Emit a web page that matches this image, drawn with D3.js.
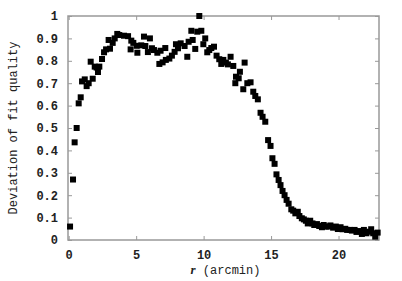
<!DOCTYPE html>
<html>
<head>
<meta charset="utf-8">
<script src="https://cdn.jsdelivr.net/npm/d3@7"></script>
<style>
  body { margin: 0; background: #fff; }
  text { font-family: "Liberation Mono", "DejaVu Sans Mono", monospace; font-weight: bold; fill: #222; }
</style>
</head>
<body>
<div id="chart"></div>
<script>
(function() {
    var width = 402,
        height = 281;

    // r (arcmin) and deviation of fit quality
    var rValues = [0.1, 0.32, 0.44, 0.59, 0.74, 0.89, 0.99, 1.19, 1.33, 1.48, 1.63, 1.78, 1.93, 2.07, 2.17, 2.27,
        2.47, 2.62, 2.77, 2.96, 3.06, 3.26, 3.41, 3.6, 3.75, 4.1, 4.4, 4.59, 4.64, 4.79, 5.04, 5.09, 5.38, 5.58,
        5.68, 5.87, 6.02, 6.17, 6.32, 6.57, 6.72, 6.81, 6.96, 7.16, 7.2, 7.46, 7.65, 7.85, 7.95, 8.1, 8.3, 8.59,
        8.79, 8.89, 9.09, 9.19, 9.38, 9.53, 9.68, 9.83, 9.98, 10.12, 10.27, 10.42, 10.57, 10.77, 10.96, 11.16,
        11.31, 11.46, 11.65, 11.8, 12.0, 12.2, 12.35, 12.4, 12.6, 12.69, 12.94, 13.04, 13.24, 13.48, 13.68,
        13.83, 14.02, 14.22, 14.37, 14.57, 14.78, 14.96, 15.1, 15.26, 15.4, 15.56, 15.7, 15.85, 16.0, 16.15,
        16.3, 16.5, 16.64, 16.8, 16.98, 17.1, 17.28, 17.43, 17.58, 17.72, 17.9, 18.07, 18.2, 18.4, 18.57,
        18.77, 18.9, 19.06, 19.26, 19.4, 19.6, 19.8, 19.95, 20.15, 20.3, 20.5, 20.64, 20.84, 20.99, 21.19,
        21.33, 21.53, 21.73, 21.88, 22.07, 22.22, 22.42, 22.57, 22.72, 22.9];
    var deviation = [0.06, 0.27, 0.436, 0.5, 0.61, 0.637, 0.708, 0.717, 0.687, 0.7, 0.796, 0.72, 0.774, 0.77, 0.75, 0.774,
        0.808, 0.838, 0.851, 0.893, 0.854, 0.88, 0.9, 0.92, 0.915, 0.912, 0.91, 0.851, 0.89, 0.88, 0.867, 0.836, 0.869, 0.908,
        0.866, 0.839, 0.9, 0.856, 0.848, 0.836, 0.786, 0.845, 0.793, 0.857, 0.804, 0.81, 0.823, 0.84, 0.874, 0.856, 0.878, 0.866,
        0.818, 0.885, 0.934, 0.893, 0.853, 0.93, 1.0, 0.934, 0.874, 0.9, 0.838, 0.848, 0.857, 0.863, 0.823, 0.807,
        0.786, 0.804, 0.792, 0.784, 0.818, 0.777, 0.7, 0.729, 0.722, 0.751, 0.673, 0.792, 0.7, 0.704, 0.662,
        0.643, 0.628, 0.568, 0.55, 0.528, 0.446, 0.42, 0.365, 0.34, 0.293, 0.268, 0.245, 0.219, 0.2, 0.179,
        0.162, 0.137, 0.131, 0.119, 0.126, 0.107, 0.097, 0.092, 0.086, 0.074, 0.086, 0.074, 0.067, 0.071, 0.0625,
        0.057, 0.067, 0.06, 0.06, 0.065, 0.055, 0.06, 0.049, 0.057, 0.048, 0.05, 0.045, 0.045, 0.042, 0.045,
        0.036, 0.04, 0.027, 0.045, 0.03, 0.037, 0.048, 0.03, 0.015, 0.033];
    var xTicks = [0, 5, 10, 15, 20];
    var yTicks = [0, 0.1, 0.2, 0.3, 0.4, 0.5, 0.6, 0.7, 0.8, 0.9, 1];

    var points = rValues.map(function(r, i) { return {r: r, v: deviation[i]} });

    var left = 68, right = 379, top = 16, bottom = 240;

    var svg = d3.select("#chart")
        .append("svg")
        .attr("width", width)
        .attr("height", height)

    var x = d3.scaleLinear().domain([0, 23]).range([left + 0.7, right]);
    var y = d3.scaleLinear().domain([0, 1]).range([bottom, top]);

    var frameColor = "#999";

    // ticks on every side, pointing inward
    svg.append("g")
        .attr("transform", "translate(0," + bottom + ")")
        .call(d3.axisBottom(x).tickValues(xTicks).tickSize(-4).tickFormat(function(d) { return d }).tickPadding(10))
        .call(function(g) {
            g.select(".domain").remove()
            g.selectAll("line").attr("stroke", frameColor)
            g.selectAll("text").attr("font-size", 12).attr("fill", "#222")
        })

    svg.append("g")
        .attr("transform", "translate(0," + top + ")")
        .call(d3.axisTop(x).tickValues(xTicks).tickSize(-4).tickFormat(""))
        .call(function(g) {
            g.select(".domain").remove()
            g.selectAll("line").attr("stroke", frameColor)
        })

    svg.append("g")
        .attr("transform", "translate(" + left + ",0)")
        .call(d3.axisLeft(y).tickValues(yTicks).tickSize(-4).tickPadding(10)
            .tickFormat(function(d) { return d === 0 || d === 1 ? d : d3.format(".1f")(d) }))
        .call(function(g) {
            g.select(".domain").remove()
            g.selectAll("line").attr("stroke", frameColor)
            g.selectAll("text").attr("font-size", 12).attr("fill", "#222")
        })

    svg.append("g")
        .attr("transform", "translate(" + right + ",0)")
        .call(d3.axisRight(y).tickValues(yTicks).tickSize(-4).tickFormat(""))
        .call(function(g) {
            g.select(".domain").remove()
            g.selectAll("line").attr("stroke", frameColor)
        })

    svg.append("rect")
        .attr("x", left)
        .attr("y", top)
        .attr("width", right - left)
        .attr("height", bottom - top)
        .attr("fill", "none")
        .attr("stroke", frameColor)
        .attr("stroke-width", 1.5)

    svg.selectAll(".pt")
        .data(points)
        .enter().append("rect")
        .attr("class", "pt")
        .attr("x", function(d) { return x(d.r) - 3 })
        .attr("y", function(d) { return y(d.v) - 3 })
        .attr("width", 6)
        .attr("height", 6)
        .attr("fill", "#000")

    // axis titles
    svg.append("text")
        .attr("transform", "translate(17," + ((top + bottom) / 2) + ") rotate(-90)")
        .attr("text-anchor", "middle")
        .attr("font-size", 12)
        .style("font-weight", "normal")
        .text("Deviation of fit quality")

    var xl = svg.append("text")
        .attr("x", (left + right) / 2 + 2)
        .attr("y", 274)
        .attr("text-anchor", "middle")
        .attr("font-size", 12)
        .style("font-weight", "normal")
    xl.append("tspan")
        .style("font-family", "'Liberation Serif', serif")
        .style("font-style", "italic")
        .style("font-weight", "bold")
        .attr("font-size", 13)
        .text("r")
    xl.append("tspan").text(" (arcmin)")
})();
</script>
</body>
</html>
